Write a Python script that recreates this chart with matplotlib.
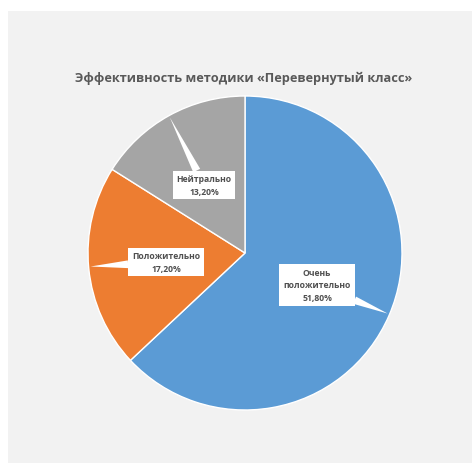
import numpy as np
import matplotlib
matplotlib.use("Agg")
import matplotlib.pyplot as plt
from matplotlib.patches import Rectangle

# данные
labels = ["Очень\nположительно", "Положительно", "Нейтрально"]
values = [51.80, 17.20, 13.20]
colors = ["#5B9BD5", "#ED7D31", "#A5A5A5"]
title = "Эффективность методики «Перевернутый класс»"

# положение подписей (пиксели) и угол, куда указывает выноска
label_pos = [(317, 286), (166, 263), (204, 186)]
tip_angle = [-23, 185, 119]

W, H = 472, 464
fig = plt.figure(figsize=(W / 100, H / 100), dpi=100)
fig.patch.set_facecolor("white")
ax = fig.add_axes([0, 0, 1, 1])

# серый фон области диаграммы
ax.add_patch(Rectangle((8, 0), W - 8, H - 12, fc="#F2F2F2", ec="none", zorder=0))

cx, cy, r = 245, H - 254, 157
ax.pie(values, colors=colors, startangle=90, counterclock=False,
       center=(cx, cy), radius=r, frame=True,
       wedgeprops=dict(edgecolor="white", linewidth=1))
ax.set_xlim(0, W)
ax.set_ylim(0, H)
ax.axis("off")

ax.text(cx - 1, H - 78, title, ha="center", va="center", fontsize=9.2,
        fontweight="bold", color="#595959", family="Open Sans")

for lab, v, (px, py), a in zip(labels, values, label_pos, tip_angle):
    txt = lab + "\n" + f"{v:.2f}%".replace(".", ",")
    tip = (cx + (r - 2) * np.cos(np.radians(a)), cy + (r - 2) * np.sin(np.radians(a)))
    ax.annotate(txt, xy=tip, xytext=(px, H - py), ha="center", va="center",
                fontsize=6.2, fontweight="bold", color="#505050", family="Open Sans",
                linespacing=1.45,
                bbox=dict(boxstyle="square,pad=0.45", fc="white", ec="none"),
                arrowprops=dict(arrowstyle="wedge,tail_width=0.9", fc="white",
                                ec="none", shrinkA=0, shrinkB=0))

fig.savefig("out.png", dpi=100)
